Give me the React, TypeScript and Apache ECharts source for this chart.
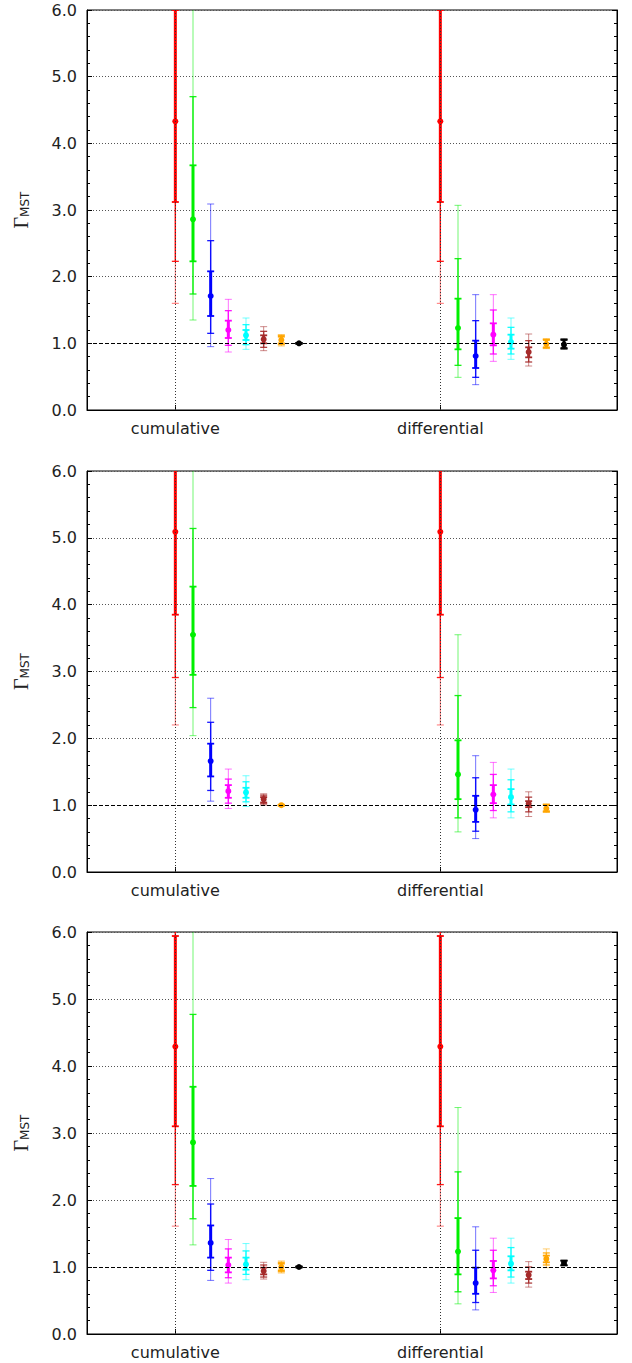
import React, { useEffect, useRef } from 'react';
import * as echarts from 'echarts';

const CATEGORIES = ['cumulative', 'differential'];
const CATEGORY_X = [1, 2];
const SERIES_NAMES = ['red', 'green', 'blue', 'magenta', 'cyan', 'brown', 'orange', 'black'];
const COLORS = ['#ff0000', '#00f000', '#0000ff', '#ff00ff', '#00ffff', '#a52a2a', '#ffa500', '#000000'];

// columns: center, lo1, hi1 (inner), lo2, hi2 (middle), lo3, hi3 (outer)
const P1_CUMULATIVE = [
  [4.33, 3.12, 6.0, 2.23, 7.5, 1.6, 8.5],
  [2.86, 2.23, 3.67, 1.74, 4.7, 1.35, 7.0],
  [1.71, 1.41, 2.08, 1.15, 2.54, 0.95, 3.09],
  [1.2, 1.08, 1.34, 0.97, 1.49, 0.87, 1.66],
  [1.12, 1.05, 1.2, 0.98, 1.28, 0.91, 1.38],
  [1.06, 1.0, 1.12, 0.94, 1.18, 0.89, 1.25],
  [1.05, 1.0, 1.1, 0.98, 1.12, 0.96, 1.13],
  [1.0, 0.995, 1.005, 0.99, 1.01, 0.99, 1.01],
];
const P1_DIFFERENTIAL = [
  [4.33, 3.12, 6.0, 2.23, 7.5, 1.6, 8.5],
  [1.23, 0.91, 1.67, 0.67, 2.27, 0.49, 3.07],
  [0.81, 0.63, 1.04, 0.49, 1.34, 0.38, 1.73],
  [1.13, 0.97, 1.3, 0.84, 1.5, 0.73, 1.73],
  [1.02, 0.92, 1.13, 0.84, 1.24, 0.76, 1.38],
  [0.87, 0.79, 0.94, 0.72, 1.04, 0.66, 1.14],
  [0.99, 0.94, 1.05, 0.93, 1.06, 0.92, 1.07],
  [0.98, 0.93, 1.05, 0.92, 1.06, 0.91, 1.07],
];
const P2_CUMULATIVE = [
  [5.09, 3.85, 6.3, 2.91, 8.0, 2.2, 9.0],
  [3.55, 2.95, 4.27, 2.46, 5.14, 2.04, 6.8],
  [1.66, 1.43, 1.92, 1.22, 2.24, 1.06, 2.6],
  [1.21, 1.11, 1.3, 1.03, 1.39, 0.95, 1.54],
  [1.19, 1.11, 1.26, 1.05, 1.35, 0.98, 1.44],
  [1.09, 1.04, 1.12, 1.02, 1.15, 1.0, 1.17],
  [1.0, 0.995, 1.005, 0.99, 1.01, 0.99, 1.01],
];
const P2_DIFFERENTIAL = [
  [5.09, 3.85, 6.3, 2.91, 8.0, 2.2, 9.0],
  [1.46, 1.09, 1.97, 0.81, 2.64, 0.6, 3.55],
  [0.93, 0.75, 1.14, 0.61, 1.41, 0.5, 1.74],
  [1.16, 1.03, 1.3, 0.92, 1.46, 0.81, 1.64],
  [1.12, 1.01, 1.24, 0.9, 1.38, 0.81, 1.54],
  [1.02, 0.97, 1.06, 0.9, 1.12, 0.83, 1.2],
  [0.95, 0.91, 1.0, 0.9, 1.01, 0.89, 1.02],
];
const P3_CUMULATIVE = [
  [4.29, 3.1, 5.94, 2.23, 7.5, 1.61, 8.5],
  [2.86, 2.21, 3.69, 1.72, 4.77, 1.33, 6.8],
  [1.36, 1.14, 1.62, 0.95, 1.94, 0.8, 2.32],
  [1.03, 0.92, 1.14, 0.84, 1.27, 0.76, 1.41],
  [1.04, 0.96, 1.14, 0.89, 1.24, 0.81, 1.35],
  [0.94, 0.89, 0.99, 0.85, 1.03, 0.82, 1.07],
  [1.0, 0.95, 1.05, 0.93, 1.07, 0.91, 1.09],
  [1.0, 0.995, 1.005, 0.99, 1.01, 0.99, 1.01],
];
const P3_DIFFERENTIAL = [
  [4.29, 3.1, 5.94, 2.23, 7.5, 1.61, 8.5],
  [1.23, 0.89, 1.73, 0.63, 2.42, 0.45, 3.38],
  [0.76, 0.6, 0.99, 0.47, 1.25, 0.36, 1.6],
  [0.95, 0.83, 1.09, 0.72, 1.25, 0.62, 1.43],
  [1.05, 0.95, 1.16, 0.85, 1.29, 0.76, 1.43],
  [0.88, 0.82, 0.93, 0.76, 1.0, 0.7, 1.08],
  [1.12, 1.07, 1.17, 1.03, 1.21, 0.99, 1.27],
  [1.06, 1.03, 1.09, 1.02, 1.1, 1.02, 1.1],
];

const PANELS = [
  [P1_CUMULATIVE, P1_DIFFERENTIAL],
  [P2_CUMULATIVE, P2_DIFFERENTIAL],
  [P3_CUMULATIVE, P3_DIFFERENTIAL],
];
const SERIES_OFFSET = 1 / 15;
const GRID_TOPS = [10, 471, 932];
const GRID_HEIGHTS = [400, 401, 402];

const FONT = 'DejaVu Sans';

export default function App() {
  const ref = useRef<HTMLDivElement>(null);
  useEffect(() => {
    if (!ref.current) return;
    const chart = echarts.init(ref.current, undefined, { renderer: 'svg' });
    const grids: any[] = [];
    const xAxes: any[] = [];
    const yAxes: any[] = [];
    const series: any[] = [];

    PANELS.forEach((panel, p) => {
      grids.push({
        left: 87,
        width: 530,
        top: GRID_TOPS[p],
        height: GRID_HEIGHTS[p],
        show: true,
        borderColor: '#000',
        borderWidth: 1,
        backgroundColor: 'transparent',
      });
      xAxes.push({
        type: 'value',
        gridIndex: p,
        min: 2 / 3,
        max: 8 / 3,
        axisLine: { show: true, lineStyle: { color: '#000', width: 1 } },
        axisTick: { show: true, inside: true, length: 5, customValues: CATEGORY_X, lineStyle: { color: '#000' } },
        axisLabel: {
          show: true,
          customValues: CATEGORY_X,
          formatter: (v: number) => CATEGORIES[Math.round(v) - 1] ?? '',
          fontFamily: FONT,
          fontSize: 16,
          color: '#222',
          margin: 10,
        },
        splitLine: { show: false },
      });
      const yBase = {
        type: 'value',
        gridIndex: p,
        min: 0,
        max: 6,
        interval: 1,
        axisLine: { show: true, lineStyle: { color: '#000', width: 1 } },
        axisTick: { show: true, inside: true, length: 5, lineStyle: { color: '#000' } },
        minorTick: { show: true, splitNumber: 5, length: 3, lineStyle: { color: '#000' } },
      };
      yAxes.push({
        ...yBase,
        position: 'left',
        axisLabel: {
          formatter: (v: number) => v.toFixed(1),
          fontFamily: FONT,
          fontSize: 16,
          color: '#222',
          margin: 10,
        },
        splitLine: { show: true, lineStyle: { color: '#555', width: 1, type: [1, 2] } },
        name: '{g|Γ}{s|MST}',
        nameLocation: 'middle',
        nameRotate: 90,
        nameGap: 56,
        nameTextStyle: {
          rich: {
            g: { fontFamily: 'Liberation Serif', fontSize: 20, color: '#222' },
            s: { fontFamily: FONT, fontSize: 12, color: '#222', padding: [8, 0, 0, 0] },
          },
        },
      });
      yAxes.push({
        ...yBase,
        position: 'right',
        axisLabel: { show: false },
        splitLine: { show: false },
      });

      // reference lines
      series.push({
        type: 'line',
        xAxisIndex: p,
        yAxisIndex: 2 * p,
        data: [],
        z: 1,
        silent: true,
        markLine: {
          silent: true,
          symbol: 'none',
          label: { show: false },
          data: [
            ...CATEGORY_X.map((x) => ({ xAxis: x, lineStyle: { color: '#333', width: 1, type: [1, 2] } })),
            { yAxis: 1, lineStyle: { color: '#000', width: 1, type: [4, 2] } },
          ],
        },
      });

      const nSeries = panel[0].length;
      for (let i = 0; i < nSeries; i++) {
        const color = COLORS[i];
        const data = panel.map((cat, c) => [CATEGORY_X[c] + i * SERIES_OFFSET, ...cat[i]]);
        series.push({
          type: 'custom',
          name: SERIES_NAMES[i],
          xAxisIndex: p,
          yAxisIndex: 2 * p,
          clip: true,
          z: 3,
          encode: { x: 0, y: 1 },
          data,
          renderItem: (params: any, api: any) => {
            const x = api.value(0);
            const children: any[] = [];
            const addBar = (lo: number, hi: number, lw: number, opacity: number, capW: number, capLw: number) => {
              const a = api.coord([x, lo]);
              const b = api.coord([x, hi]);
              children.push({
                type: 'line',
                shape: { x1: a[0], y1: a[1], x2: b[0], y2: b[1] },
                style: { stroke: color, lineWidth: lw, opacity },
              });
              [a, b].forEach((pt) => {
                children.push({
                  type: 'line',
                  shape: { x1: pt[0] - capW, y1: pt[1], x2: pt[0] + capW, y2: pt[1] },
                  style: { stroke: color, lineWidth: capLw, opacity },
                });
              });
            };
            addBar(api.value(6), api.value(7), 1, 0.55, 3.5, 1);
            addBar(api.value(4), api.value(5), 1.4, 0.9, 3.5, 1.3);
            addBar(api.value(2), api.value(3), 3, 1, 3.5, 1.8);
            const m = api.coord([x, api.value(1)]);
            children.push({ type: 'circle', shape: { cx: m[0], cy: m[1], r: 3 }, style: { fill: color } });
            return { type: 'group', children };
          },
        });
      }
    });

    chart.setOption({
      animation: false,
      backgroundColor: '#fff',
      grid: grids,
      xAxis: xAxes,
      yAxis: yAxes,
      series,
    });
    return () => chart.dispose();
  }, []);
  return <div ref={ref} style={{ position: 'absolute', left: 0, top: 0, width: 632, height: 1363 }} />;
}
